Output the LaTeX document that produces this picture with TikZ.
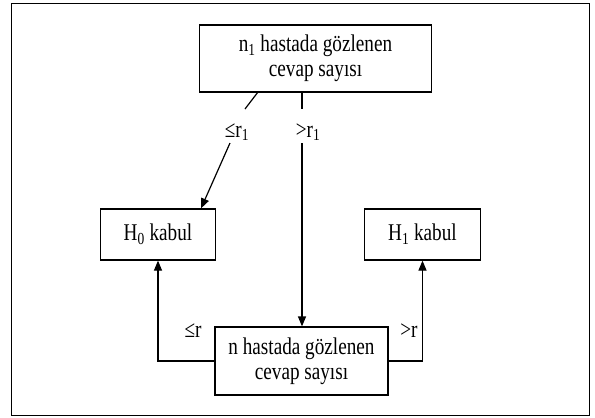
\documentclass[tikz,border=0pt]{standalone}
\usepackage{fontspec}
\setmainfont[FakeStretch=0.8]{Liberation Serif}
\usetikzlibrary{arrows.meta}
\begin{document}
\begin{tikzpicture}[x=1pt,y=-1pt,
  box/.style={draw,line width=1.2pt,align=center,inner sep=0pt,font=\fontsize{24}{25}\selectfont},
  lab/.style={inner sep=0pt,font=\fontsize{24}{25}\selectfont},
  conn/.style={line width=1.2pt},
  arr/.style={line width=1.2pt,-{Triangle[length=10pt,width=8pt]}}]
\useasboundingbox (0,0) rectangle (595,418);
\draw[line width=1pt] (11,3) rectangle (589,415);
\node[box,minimum width=232pt,minimum height=67pt] (top) at (315.5,58.5) {n\textsubscript{1} hastada gözlenen\\cevap sayısı};
\node[box,minimum width=115pt,minimum height=51pt] (h0) at (158,234.5) {H\textsubscript{0} kabul};
\node[box,minimum width=116pt,minimum height=51pt] (h1) at (422.5,234.5) {H\textsubscript{1} kabul};
\node[box,minimum width=173pt,minimum height=68pt] (bot) at (301.5,361) {n hastada gözlenen\\cevap sayısı};
\node[lab] (l1) at (237,132) {≤r\textsubscript{1}};
\node[lab] (l2) at (308,132) {>r\textsubscript{1}};
\node[lab] (l3) at (193,331) {≤r};
\node[lab] (l4) at (409,331) {>r};
\coordinate (a0) at (258,92);
\coordinate (a1) at (245,109);
\coordinate (a2) at (230,143);
\coordinate (b0) at (302,92);
\coordinate (b1) at (302,109);
\coordinate (b2) at (302,143);
\draw[conn] (a0) -- (a1);
\draw[arr] (a2) -- (h0.north -| 201,0);
\draw[conn] (b0) -- (b1);
\draw[arr] (b2) -- (bot.north -| b2);
\draw[arr] (bot.west) -| (h0.south);
\draw[arr] (bot.east) -| (h1.south);
\end{tikzpicture}
\end{document}
